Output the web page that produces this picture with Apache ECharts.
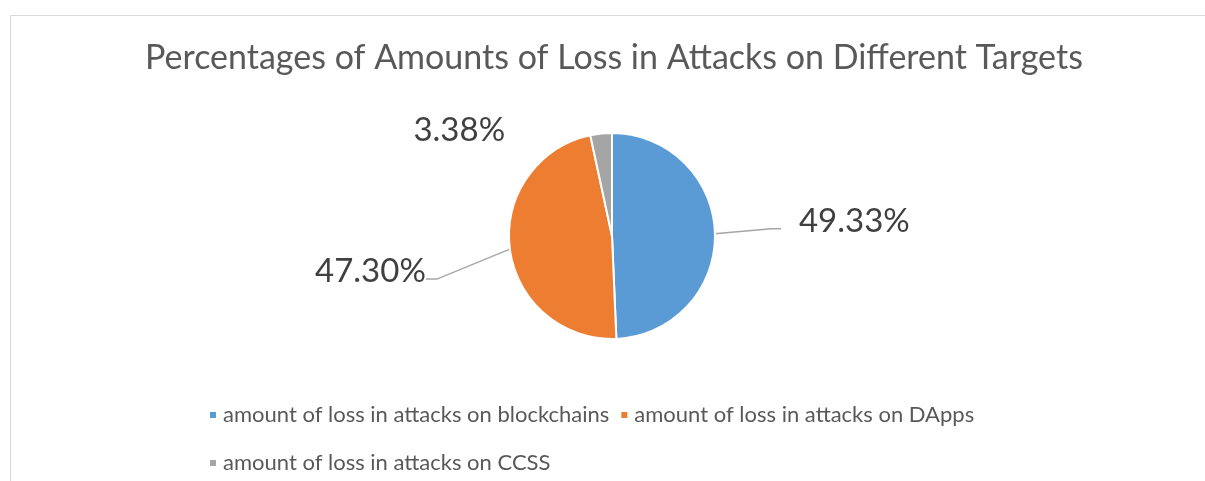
<!DOCTYPE html>
<html>
<head>
<meta charset="utf-8">
<script src="https://cdn.jsdelivr.net/npm/echarts@6/dist/echarts.min.js"></script>
<style>
  html, body { margin: 0; padding: 0; background: #ffffff; }
  #chart { width: 1205px; height: 481px; }
</style>
</head>
<body>
<div id="chart"></div>
<script>
// Share of losses by attack target (percent)
const categories = [
  'amount of loss in attacks on blockchains',
  'amount of loss in attacks on DApps',
  'amount of loss in attacks on CCSS'
];
const values = [49.33, 47.30, 3.38];
const colors = ['#5B9BD5', '#ED7D31', '#A5A5A5'];
const titleText = 'Percentages of Amounts of Loss in Attacks on Different Targets';

const FONT = 'Lato, "Liberation Sans", sans-serif';

const chart = echarts.init(document.getElementById('chart'), null, { renderer: 'canvas' });

const pieData = categories.map((name, i) => ({
  name: name,
  value: values[i],
  itemStyle: { color: colors[i] },
  labelLine: { show: i !== 2 }
}));

const legendText = { fontFamily: FONT, fontSize: 22, color: '#595959', lineHeight: 24, padding: [0, 0, 0, 1] };

chart.setOption({
  animation: false,
  backgroundColor: '#ffffff',
  graphic: [{
    type: 'rect',
    left: 8, top: 13,
    shape: { width: 1400, height: 600 },
    style: { fill: 'none', stroke: '#D9D9D9', lineWidth: 1 },
    silent: true
  }],
  title: {
    text: titleText,
    left: 140,
    top: 36,
    textStyle: { fontFamily: FONT, fontSize: 34, fontWeight: 'normal', color: '#595959' }
  },
  legend: [
    {
      data: categories.slice(0, 2),
      left: 203, top: 398,
      icon: 'rect', itemWidth: 8, itemHeight: 8, itemGap: 10,
      textStyle: legendText
    },
    {
      data: categories.slice(2),
      left: 203, top: 446,
      icon: 'rect', itemWidth: 8, itemHeight: 8, itemGap: 10,
      textStyle: legendText
    }
  ],
  series: [{
    type: 'pie',
    center: [612, 236],
    radius: 103,
    startAngle: 90,
    clockwise: true,
    data: pieData,
    itemStyle: { borderColor: '#ffffff', borderWidth: 2 },
    label: {
      show: true,
      position: 'outside',
      formatter: p => p.value.toFixed(2) + '%',
      fontFamily: FONT,
      fontSize: 33,
      color: '#404040'
    },
    labelLine: {
      show: true,
      length: 40,
      length2: 10,
      lineStyle: { color: '#A6A6A6', width: 1.5 }
    },
    labelLayout: function (params) {
      const pts = params.labelLinePoints;
      if (!pts) return {};
      const p0 = pts[0];
      if (params.dataIndex === 0) {
        return {
          x: p0[0] + 84, y: p0[1] - 12, align: 'left', verticalAlign: 'middle',
          labelLinePoints: [p0, [p0[0] + 56, p0[1] - 5], [p0[0] + 66, p0[1] - 5]]
        };
      }
      if (params.dataIndex === 1) {
        return {
          x: p0[0] - 84, y: p0[1] + 22, align: 'right', verticalAlign: 'middle',
          labelLinePoints: [p0, [p0[0] - 73, p0[1] + 30], [p0[0] - 84, p0[1] + 30]]
        };
      }
      return {
        x: p0[0] - 96, y: p0[1] - 3, align: 'right', verticalAlign: 'middle'
      };
    }
  }]
});
</script>
</body>
</html>
